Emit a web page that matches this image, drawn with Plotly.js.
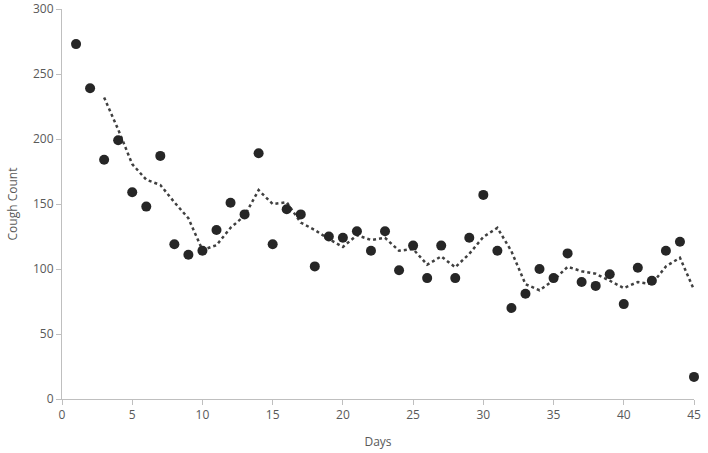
<!DOCTYPE html>
<html>
<head>
<meta charset="utf-8">
<script src="https://cdn.plot.ly/plotly-3.0.1.min.js"></script>
<style>
  html, body { margin: 0; padding: 0; background: #fff; }
  #chart { width: 708px; height: 453px; }
</style>
</head>
<body>
<div id="chart"></div>
<script>
// values
var days = [1, 2, 3, 4, 5, 6, 7, 8, 9, 10,
            11, 12, 13, 14, 15, 16, 17, 18, 19, 20,
            21, 22, 23, 24, 25, 26, 27, 28, 29, 30,
            31, 32, 33, 34, 35, 36, 37, 38, 39, 40,
            41, 42, 43, 44, 45];
var coughs = [273, 239, 184, 199, 159, 148, 187, 119, 111, 114,
              130, 151, 142, 189, 119, 146, 142, 102, 125, 124,
              129, 114, 129, 99, 118, 93, 118, 93, 124, 157,
              114, 70, 81, 100, 93, 112, 90, 87, 96, 73,
              101, 91, 114, 121, 17];
var xTicks = [0, 5, 10, 15, 20, 25, 30, 35, 40, 45];
var yTicks = [0, 50, 100, 150, 200, 250, 300];

// 3-period moving average trendline (as the spreadsheet draws it)
var period = 3;
var maDays = [], maVals = [];
for (var i = period - 1; i < coughs.length; i++) {
  var s = 0;
  for (var k = 0; k < period; k++) s += coughs[i - k];
  maDays.push(days[i]);
  maVals.push(s / period);
}

var font = { family: 'Open Sans, sans-serif', size: 12, color: '#595959' };

var points = {
  x: days,
  y: coughs,
  mode: 'markers',
  type: 'scatter',
  marker: { color: '#262626', size: 10 },
  showlegend: false,
  cliponaxis: false
};

var trend = {
  x: maDays,
  y: maVals,
  mode: 'lines',
  type: 'scatter',
  line: { color: '#404040', width: 2.5, dash: 'dot' },
  showlegend: false
};

var layout = {
  width: 708,
  height: 453,
  margin: { l: 62, r: 14, t: 9, b: 54 },
  paper_bgcolor: '#fff',
  plot_bgcolor: '#fff',
  font: font,
  xaxis: {
    range: [0, 45],
    tickvals: xTicks,
    ticktext: xTicks.map(String),
    showgrid: false,
    zeroline: false,
    showline: true,
    linecolor: '#bfbfbf',
    linewidth: 1,
    ticks: 'outside',
    ticklen: 5,
    tickcolor: '#bfbfbf',
    ticklabeloverflow: 'allow',
    title: { text: 'Days', font: font, standoff: 15 }
  },
  yaxis: {
    range: [0, 300],
    tickvals: yTicks,
    ticktext: yTicks.map(String),
    showgrid: false,
    zeroline: false,
    showline: true,
    linecolor: '#bfbfbf',
    linewidth: 1,
    ticks: 'outside',
    ticklen: 5,
    tickcolor: '#bfbfbf',
    ticklabeloverflow: 'allow',
    title: { text: 'Cough Count', font: font, standoff: 12 }
  }
};

Plotly.newPlot('chart', [trend, points], layout, { displayModeBar: false, staticPlot: true });
</script>
</body>
</html>
